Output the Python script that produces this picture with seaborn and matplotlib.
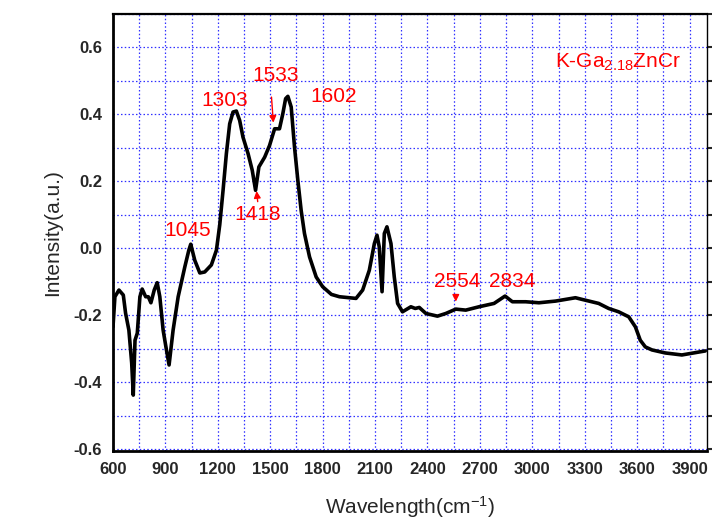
import matplotlib
matplotlib.use("Agg")
import matplotlib.pyplot as plt
import seaborn as sns
import numpy as np
import pandas as pd
from matplotlib.ticker import MultipleLocator

wavenumber = [600, 611, 634, 659, 672, 691, 707, 716, 726, 739, 754, 767, 787, 802, 817, 836, 853, 868, 887, 903,
              921, 944, 973, 1011, 1034, 1045, 1068, 1097, 1125, 1163, 1192, 1211, 1230, 1249, 1268, 1287, 1306,
              1325, 1344, 1373, 1397, 1416, 1435, 1468, 1496, 1525, 1553, 1572, 1588, 1601, 1620, 1639, 1658, 1677,
              1696, 1725, 1763, 1800, 1850, 1896, 1991, 2029, 2067, 2096, 2111, 2124, 2140, 2153, 2168, 2191, 2210,
              2229, 2257, 2305, 2330, 2353, 2391, 2457, 2505, 2562, 2619, 2695, 2781, 2844, 2886, 2962, 3038, 3133,
              3247, 3285, 3380, 3437, 3494, 3552, 3590, 3618, 3647, 3685, 3761, 3856, 3990]
intensity = [-0.235, -0.145, -0.125, -0.14, -0.194, -0.245, -0.343, -0.439, -0.275, -0.254, -0.145, -0.122, -0.145,
             -0.145, -0.163, -0.125, -0.103, -0.145, -0.245, -0.295, -0.349, -0.245, -0.145, -0.056, -0.006, 0.012,
             -0.036, -0.074, -0.071, -0.05, -0.006, 0.07, 0.173, 0.283, 0.372, 0.407, 0.41, 0.382, 0.332, 0.283,
             0.233, 0.173, 0.243, 0.272, 0.307, 0.357, 0.357, 0.402, 0.447, 0.454, 0.422, 0.302, 0.203, 0.113,
             0.044, -0.026, -0.086, -0.115, -0.138, -0.145, -0.15, -0.125, -0.066, 0.014, 0.039, 0.004, -0.13,
             0.044, 0.064, 0.014, -0.086, -0.165, -0.19, -0.175, -0.18, -0.177, -0.195, -0.203, -0.195, -0.182,
             -0.185, -0.175, -0.165, -0.143, -0.16, -0.16, -0.163, -0.158, -0.148, -0.153, -0.165, -0.18, -0.19,
             -0.205, -0.235, -0.275, -0.295, -0.304, -0.313, -0.319, -0.307]

peak_labels = ["1045", "1303", "1533", "1602", "1418", "2554", "2834"]
peak_label_x = [1028, 1237, 1531, 1865, 1425, 2572, 2886]
peak_label_y = [0.054, 0.442, 0.516, 0.454, 0.100, -0.100, -0.100]

sample_label = "K-Ga$\\mathregular{_{2.18}}$ZnCr"
x_ticks = [600, 900, 1200, 1500, 1800, 2100, 2400, 2700, 3000, 3300, 3600, 3900]
y_ticks = [-0.6, -0.4, -0.2, 0.0, 0.2, 0.4, 0.6]

sns.set_style("white")
plt.rcParams['font.family'] = ['Liberation Sans', 'DejaVu Sans']
plt.rcParams['mathtext.fontset'] = 'custom'
plt.rcParams['mathtext.rm'] = 'Liberation Sans'
plt.rcParams['mathtext.it'] = 'Liberation Sans:italic'
plt.rcParams['mathtext.bf'] = 'Liberation Sans:bold'

df = pd.DataFrame({"wavenumber": wavenumber, "intensity": intensity})

fig = plt.figure(figsize=(7.12, 5.23), dpi=100)
ax = fig.add_axes([0.1587, 0.1377, 0.8343, 0.8355])

sns.lineplot(data=df, x="wavenumber", y="intensity", ax=ax, color="black", lw=2.6, estimator=None, sort=False)

ax.set_xlim(600, 4000)
ax.set_ylim(-0.606, 0.70)
ax.set_xticks(x_ticks)
ax.set_yticks(y_ticks)
ax.xaxis.set_minor_locator(MultipleLocator(150))
ax.yaxis.set_minor_locator(MultipleLocator(0.1))
ax.set_xticklabels([str(v) for v in x_ticks], fontweight='bold', fontsize=12)
ax.set_yticklabels([f"{v:.1f}" for v in y_ticks], fontweight='bold', fontsize=12)

ax.grid(True, which='both', color='#3030ff', linestyle=(0, (1.2, 1.8)), linewidth=0.9)
ax.set_axisbelow(True)

for side in ['left', 'bottom']:
    ax.spines[side].set_linewidth(2.0)
ax.spines['top'].set_linewidth(1.6)
ax.spines['right'].set_linewidth(1.0)
for s in ax.spines.values():
    s.set_color('black')

ax.tick_params(axis='both', which='major', direction='out', length=5, width=1.5, pad=3)
ax.tick_params(axis='both', which='minor', direction='out', length=4, width=1.5)
ax.tick_params(axis='y', which='both', right=True, labelright=False)

ax.set_xlabel("Wavelength(cm$^{-1}$)", fontsize=15, labelpad=12)
ax.set_ylabel("Intensity(a.u.)", fontsize=15, labelpad=8)

for lab, lx, ly in zip(peak_labels, peak_label_x, peak_label_y):
    ax.text(lx, ly, lab, color='red', fontsize=15, ha='center', va='center')

arrow_kw = dict(arrowstyle='-|>', color='red', lw=1.0, mutation_scale=10)
ax.annotate("", xy=(1519, 0.367), xytext=(1506, 0.46), arrowprops=arrow_kw)
ax.annotate("", xy=(1420, 0.179), xytext=(1430, 0.131), arrowprops=arrow_kw)
ax.annotate("", xy=(2562, -0.168), xytext=(2562, -0.130), arrowprops=arrow_kw)

ax.text(3129, 0.555, sample_label, color='red', fontsize=15, ha='left', va='center')

fig.savefig("out.png", dpi=100)
